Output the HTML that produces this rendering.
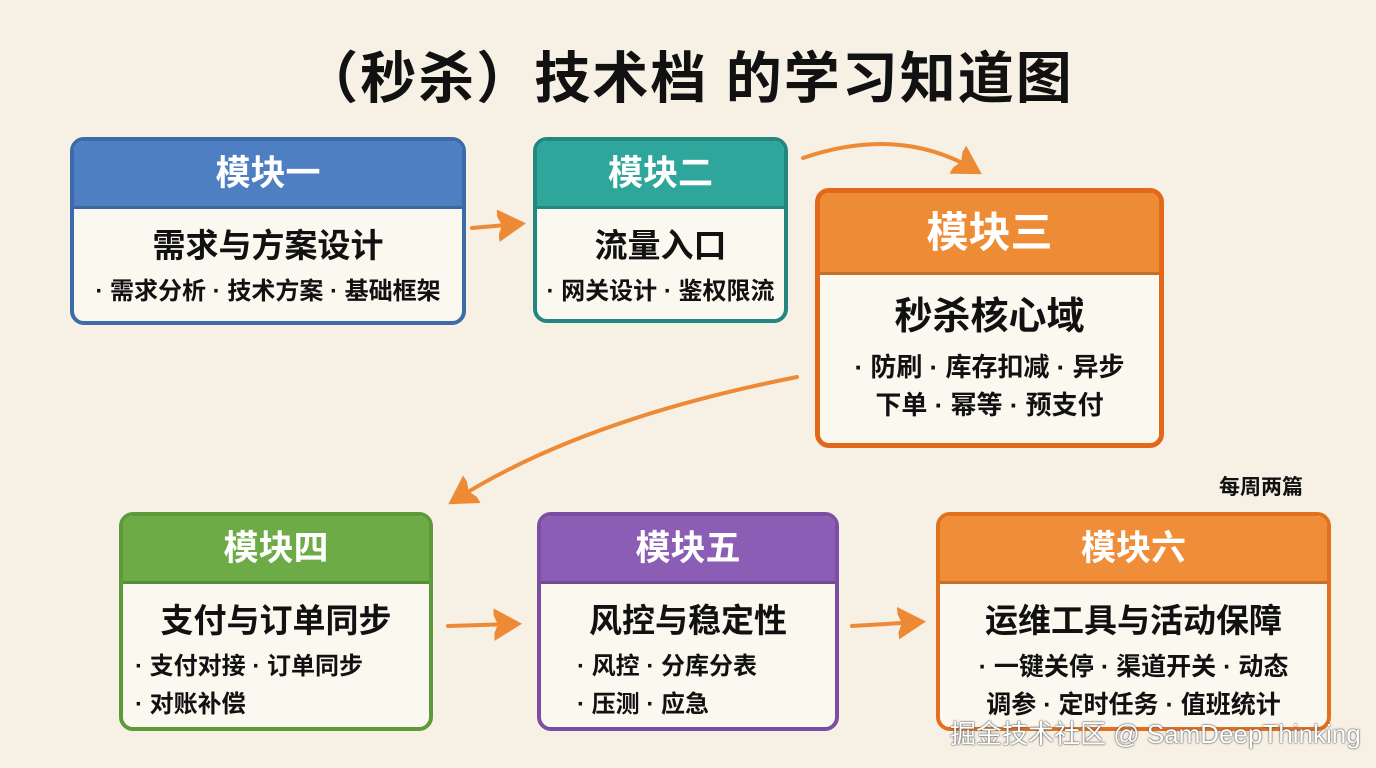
<!DOCTYPE html>
<html><head><meta charset="utf-8"><style>
body{margin:0;width:1376px;height:768px;background:#f6f1e4;position:relative;overflow:hidden;font-family:"Liberation Sans","Noto Sans CJK SC",sans-serif;font-weight:bold;color:#111}
.b{position:absolute;border:4px solid;border-radius:14px;background:#fbf8f0;overflow:hidden;box-sizing:border-box}
.h{color:#fff;text-align:center;font-size:35px;border-bottom:3px solid rgba(0,0,0,.18);display:flex;align-items:center;justify-content:center;padding-bottom:6px;box-sizing:border-box}
.t{text-align:center;font-size:33px;margin-top:10px}
.l{text-align:center;font-size:24px;line-height:38px;margin-top:6px}
.title{position:absolute;left:0;width:1376px;top:34px;text-align:center;font-size:56px;letter-spacing:2px}
</style></head><body>
<div class="title">（秒杀）技术档 的学习知道图</div>

<div class="b" style="left:70px;top:137px;width:396px;height:188px;border-color:#3d6aa8">
<div class="h" style="background:#4d7fc2;height:68px">模块一</div>
<div class="t">需求与方案设计</div><div class="l">· 需求分析 · 技术方案 · 基础框架</div></div>

<div class="b" style="left:533px;top:137px;width:255px;height:186px;border-color:#22877e">
<div class="h" style="background:#2ea69b;height:68px">模块二</div>
<div class="t">流量入口</div><div class="l">· 网关设计 · 鉴权限流</div></div>

<div class="b" style="left:815px;top:188px;width:349px;height:260px;border-color:#e2691c;border-width:5px">
<div class="h" style="background:#ee8c36;height:82px;font-size:42px">模块三</div>
<div class="t" style="font-size:38px;margin-top:10px">秒杀核心域</div><div class="l" style="font-size:26px;margin-top:8px">· 防刷 · 库存扣减 · 异步<br>下单 · 幂等 · 预支付</div></div>

<div class="b" style="left:119px;top:512px;width:314px;height:219px;border-color:#5c9a3a">
<div class="h" style="background:#6cab45;height:68px">模块四</div>
<div class="t">支付与订单同步</div><div class="l" style="text-align:left;padding-left:12px">· 支付对接 · 订单同步<br>· 对账补偿</div></div>

<div class="b" style="left:537px;top:512px;width:302px;height:219px;border-color:#7a4ea3">
<div class="h" style="background:#8c5db4;height:68px">模块五</div>
<div class="t">风控与稳定性</div><div class="l" style="text-align:left;padding-left:36px">· 风控 · 分库分表<br>· 压测 · 应急</div></div>

<div class="b" style="left:936px;top:512px;width:395px;height:219px;border-color:#e2701f">
<div class="h" style="background:#ef8d38;height:68px">模块六</div>
<div class="t">运维工具与活动保障</div><div class="l" style="font-size:25px">· 一键关停 · 渠道开关 · 动态<br>调参 · 定时任务 · 值班统计</div></div>

<div style="position:absolute;left:1219px;top:471px;font-size:21px">每周两篇</div>

<svg style="position:absolute;left:0;top:0" width="1376" height="768">
<defs><marker id="a" markerWidth="8" markerHeight="8" refX="5" refY="4" orient="auto" markerUnits="strokeWidth"><path d="M0,0.5 L6,4 L0,7.5 L1.5,4 Z" fill="#ee8a35" stroke="#ee8a35" stroke-width="1"/></marker></defs>
<g stroke="#ee8a35" stroke-width="4" fill="none" stroke-linecap="round" marker-end="url(#a)">
<path d="M472,228 L518,224"/>
<path d="M803,158 Q900,125 975,170"/>
<path d="M797,377 Q580,420 455,500"/>
<path d="M448,626 L514,624"/>
<path d="M852,626 L918,622"/>
</g></svg>
<div style="position:absolute;left:950px;top:714px;font-size:26px;font-weight:normal;color:#fff;text-shadow:0 0 2px #555,0 0 1px #333">掘金技术社区 @ SamDeepThinking</div>
</body></html>
